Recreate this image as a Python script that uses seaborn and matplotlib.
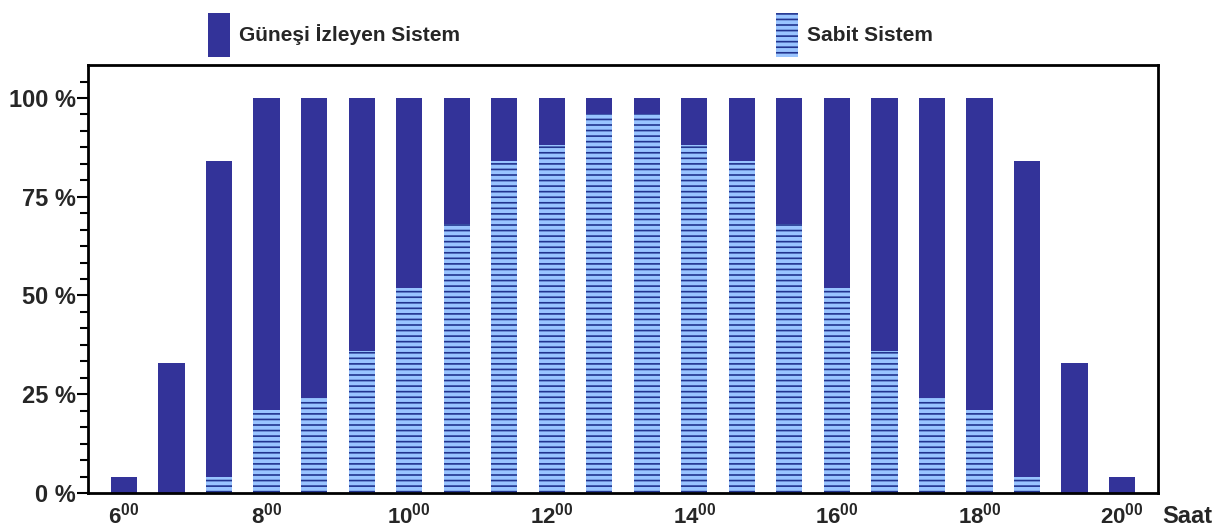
import pandas as pd
import matplotlib.pyplot as plt
import matplotlib.patches as mpatches
from matplotlib.ticker import MultipleLocator
import seaborn as sns

# every 40 minutes between 06:00 and 20:00
HOURS = ["6:00", "6:40", "7:20", "8:00", "8:40", "9:20", "10:00", "10:40",
         "11:20", "12:00", "12:40", "13:20", "14:00", "14:40", "15:20",
         "16:00", "16:40", "17:20", "18:00", "18:40", "19:20", "20:00"]
TRACKING = [4, 33, 84, 100, 100, 100, 100, 100, 100, 100, 100,
            100, 100, 100, 100, 100, 100, 100, 100, 84, 33, 4]
FIXED = [0, 0, 4, 21, 24, 36, 52, 68, 84, 88, 96,
         96, 88, 84, 68, 52, 36, 24, 21, 4, 0, 0]
TICK_HOURS = [6, 8, 10, 12, 14, 16, 18, 20]

DARK = "#333399"
LIGHT = "#99c4ff"
LINE = "#22348f"

sns.set_theme(style="white")
plt.rcParams["font.family"] = ["Liberation Sans Narrow", "Liberation Sans", "DejaVu Sans"]
plt.rcParams["font.weight"] = "bold"
plt.rcParams["mathtext.fontset"] = "custom"
plt.rcParams["mathtext.bf"] = "Liberation Sans:bold"
plt.rcParams["mathtext.rm"] = "Liberation Sans:bold"
plt.rcParams["hatch.linewidth"] = 1.2

df = pd.DataFrame({"saat": HOURS, "izleyen": TRACKING, "sabit": FIXED})

fig = plt.figure(figsize=(12.24, 5.30), dpi=100)
ax = fig.add_axes([0.0719, 0.0698, 0.8742, 0.8072])

sns.barplot(data=df, x="saat", y="izleyen", color=DARK, saturation=1,
            width=0.55, linewidth=0, ax=ax)
n_dark = len(ax.patches)
sns.barplot(data=df, x="saat", y="sabit", color=LIGHT, saturation=1,
            width=0.55, linewidth=0, ax=ax)
for p in ax.patches[n_dark:]:
    p.set_hatch("---")
    p.set_edgecolor(LINE)
    p.set_linewidth(0)

ax.set_xlim(-0.756, len(HOURS) - 1 + 0.756)
ax.set_ylim(0, 108.3)

ax.set_xticks([HOURS.index(f"{h}:00") for h in TICK_HOURS])
ax.set_xticklabels([rf"$\mathbf{{{h}^{{00}}}}$" for h in TICK_HOURS], fontsize=16)
ax.tick_params(axis="x", length=0, pad=7)

ax.set_yticks([0, 25, 50, 75, 100])
ax.set_yticklabels(["0 %", "25 %", "50 %", "75 %", "100 %"], fontsize=17)
ax.yaxis.set_minor_locator(MultipleLocator(25 / 6))
ax.tick_params(axis="y", which="major", length=8, width=1.5, color="black",
               left=True, direction="out", pad=1)
ax.tick_params(axis="y", which="minor", length=6, width=1.5, color="black",
               left=True, direction="out")
ax.set_xlabel("")
ax.set_ylabel("")

for s in ax.spines.values():
    s.set_visible(True)
    s.set_color("black")
    s.set_linewidth(2)

ax.text(1.004, -0.055, "Saat", transform=ax.transAxes, fontsize=17,
        ha="left", va="center")

handles = [
    mpatches.Patch(facecolor=DARK, edgecolor=DARK, linewidth=0,
                   label="Güneşi İzleyen Sistem"),
    mpatches.Patch(facecolor=LIGHT, edgecolor=LINE, linewidth=0, hatch="---",
                   label="Sabit Sistem"),
]
fig.legend(handles=handles, ncol=2, loc="center left",
           bbox_to_anchor=(0.1635, 0.934), frameon=False, fontsize=15,
           handlelength=1.05, handleheight=2.9, handletextpad=0.4,
           columnspacing=15.2, borderaxespad=0)

plt.savefig("out.png", dpi=100)
